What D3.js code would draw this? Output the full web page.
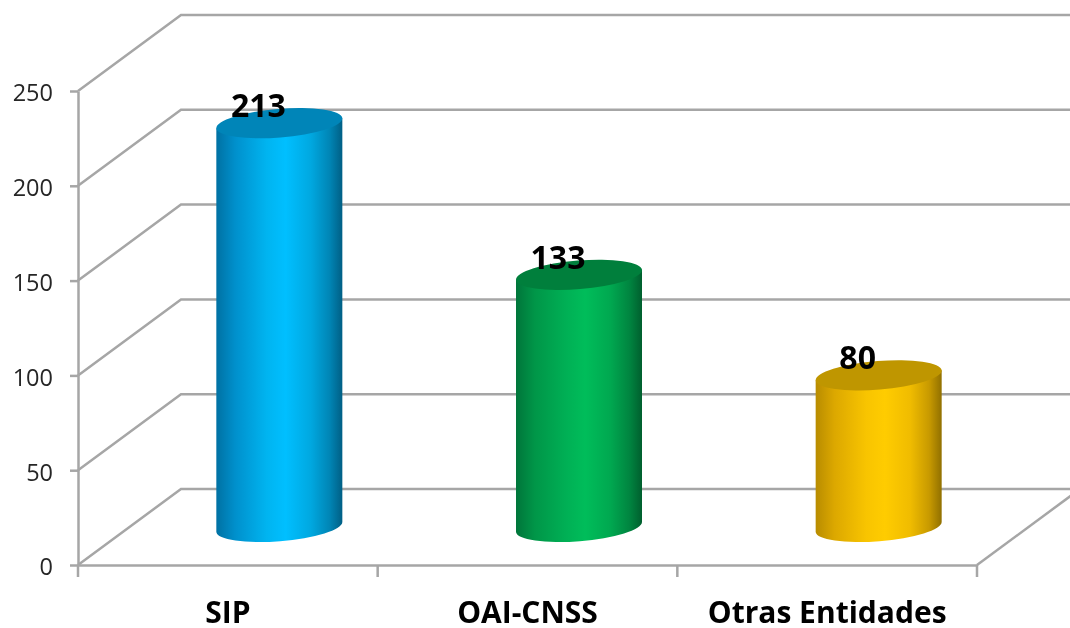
<!DOCTYPE html>
<html>
<head>
<meta charset="utf-8">
<script src="https://cdn.jsdelivr.net/npm/d3@7"></script>
<style>
    html, body { margin: 0; padding: 0; background: #fff; overflow: hidden; }
    text { font-family: "Open Sans", sans-serif; }
    /* reference is a soft upscaled image */
    #chart { filter: blur(0.5px); }
</style>
</head>
<body>
<svg id="chart"></svg>
<script>
const categories = ["SIP", "OAI-CNSS", "Otras Entidades"];
const values = [213, 133, 80];
const yTicks = [0, 50, 100, 150, 200, 250];
const gradStops = [0, 0.15, 0.4, 0.55, 0.75, 0.9, 1];
const bodyColors = [
    ["#0071a3", "#0090cc", "#00b4f0", "#00bfff", "#00a8e0", "#0085b5", "#005f85"],
    ["#00753a", "#009648", "#00b055", "#00bd5a", "#00a850", "#008540", "#005f2e"],
    ["#b88c00", "#dca800", "#f8c400", "#ffcc00", "#f0bc00", "#c89a00", "#917000"]
];
const topColors = ["#0085b8", "#007f3c", "#bf9600"];

const width = 1070, height = 628;
const margin = { top: 91, right: 93, bottom: 63, left: 78 };
// 3d floor offset
const depthX = 103, depthY = 76;
const gridColor = "#a6a6a6";

const svg = d3.select("#chart").attr("width", width).attr("height", height);
const defs = svg.append("defs");

const xScale = d3.scaleBand()
    .domain(categories)
    .range([margin.left, width - margin.right]);
const yScale = d3.scaleLinear()
    .domain([0, 250])
    .range([height - margin.bottom, margin.top]);

const grid = svg.append("g")
    .attr("fill", "none")
    .attr("stroke", gridColor)
    .attr("stroke-width", 2.5);

// walls: diagonal then back line, runs off the right of the page
grid.selectAll("polyline")
    .data(yTicks)
    .join("polyline")
    .attr("points", d => {
        const y = yScale(d);
        return `${margin.left},${y} ${margin.left + depthX},${y - depthY} ${width},${y - depthY}`;
    });

// right side of the floor
grid.append("line")
    .attr("x1", width - margin.right).attr("y1", yScale(0))
    .attr("x2", width - margin.right + depthX).attr("y2", yScale(0) - depthY);

// Add Y axis
const yAxis = svg.append("g")
    .attr("transform", `translate(${margin.left}, 0)`)
    .call(d3.axisLeft(yScale).tickValues(yTicks).tickSize(8).tickPadding(17).tickSizeOuter(0));
yAxis.selectAll("text")
    .attr("font-size", 23.5)
    .attr("fill", "#262626")
    .attr("dy", "0.42em")
    .style("font-family", '"Open Sans", sans-serif');

// Add X axis, labels come from the axis, ticks sit on the band edges
const xAxis = svg.append("g")
    .attr("transform", `translate(0, ${yScale(0)})`)
    .call(d3.axisBottom(xScale).tickSize(0).tickPadding(37).tickSizeOuter(0));
xAxis.selectAll("text")
    .attr("font-size", 30)
    .attr("font-weight", 700)
    .attr("fill", "#000")
    .style("font-family", '"Open Sans", sans-serif');
xAxis.selectAll(".edge")
    .data(categories.map(d => xScale(d)).concat(width - margin.right))
    .join("line")
    .attr("class", "edge")
    .attr("x1", d => d).attr("x2", d => d)
    .attr("y1", 0).attr("y2", 12);

svg.selectAll(".domain, .tick line, .edge")
    .attr("stroke", gridColor)
    .attr("stroke-width", 2.5);

// cylinders
const rx = 63.2, ry = 14.3, tilt = -4.6;
const edgeX = 63, edgeY = 5;

categories.forEach((c, i) => {
    const grad = defs.append("linearGradient").attr("id", "body" + i);
    gradStops.forEach((o, k) => {
        grad.append("stop").attr("offset", o).attr("stop-color", bodyColors[i][k]);
    });
});

const bars = svg.selectAll(".bar")
    .data(categories)
    .join("g")
    .attr("class", "bar");

const cx = d => xScale(d) + xScale.bandwidth() / 2 + depthX / 2;
const base = yScale(0) - depthY / 2;
const topY = (d, i) => yScale(values[i]) - depthY / 2;

bars.append("path")
    .attr("fill", (d, i) => `url(#body${i})`)
    .attr("d", (d, i) => {
        const x = cx(d), t = topY(d, i);
        return `M${x - edgeX},${t + edgeY} L${x - edgeX},${base + edgeY}`
            + ` A${rx},${ry} ${tilt} 0 0 ${x + edgeX},${base - edgeY}`
            + ` L${x + edgeX},${t - edgeY} Z`;
    });

bars.append("ellipse")
    .attr("rx", rx)
    .attr("ry", ry)
    .attr("fill", (d, i) => topColors[i])
    .attr("transform", (d, i) => `translate(${cx(d)},${topY(d, i)}) rotate(${tilt})`);

bars.append("text")
    .attr("x", d => cx(d) - 21)
    .attr("y", (d, i) => topY(d, i) - 6)
    .attr("text-anchor", "middle")
    .attr("font-size", 32)
    .attr("font-weight", 700)
    .attr("fill", "#000")
    .text((d, i) => values[i]);
</script>
</body>
</html>
